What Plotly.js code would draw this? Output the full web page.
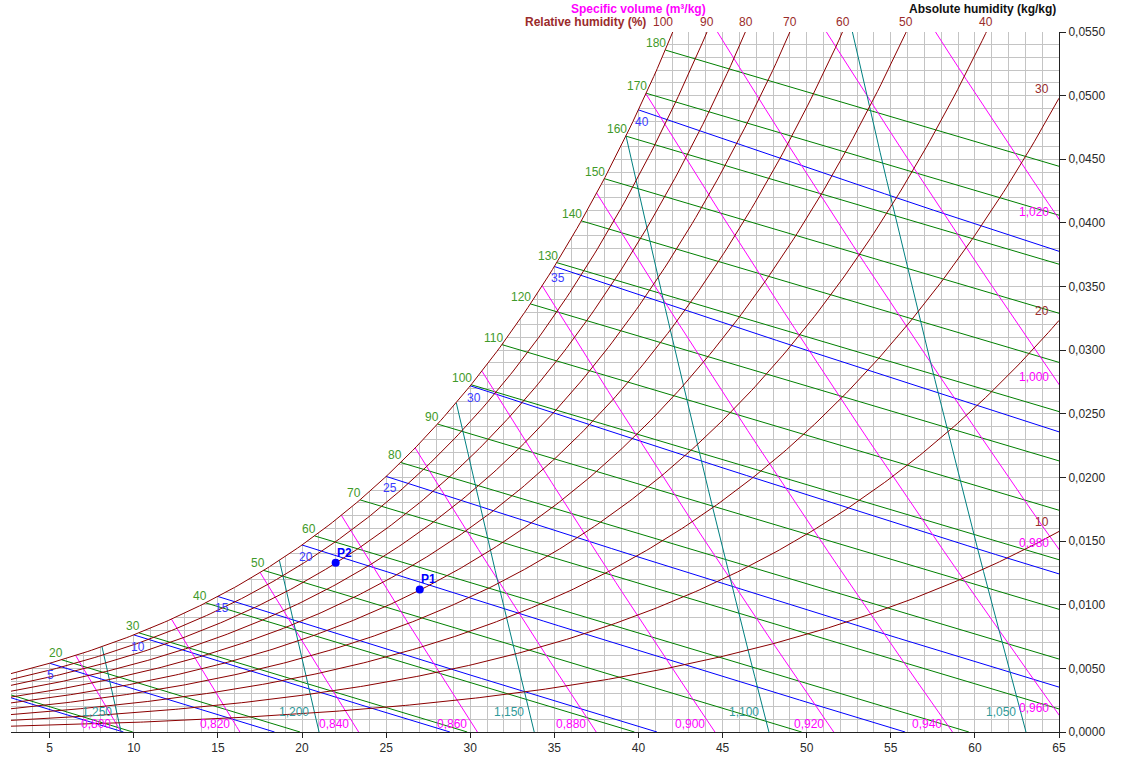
<!DOCTYPE html>
<html>
<head>
<meta charset="utf-8">
<script src="https://cdn.plot.ly/plotly-3.0.1.min.js"></script>
<style>
  html, body { margin: 0; padding: 0; background: #ffffff; }
  #chart { width: 1125px; height: 758px; }
</style>
</head>
<body>
<div id="chart"></div>
<script>
// ---------------- data (levels / labels) ----------------
const pressureKPa = 101.325;               // standard atmosphere
const tempRange = [2.7, 65];               // dry bulb °C
const humRange = [0, 0.055];               // kg/kg
const xTickValues = [5, 10, 15, 20, 25, 30, 35, 40, 45, 50, 55, 60, 65];
const rhLevels = [10, 20, 30, 40, 50, 60, 70, 80, 90, 100];
const rhTopLabels = [100, 90, 80, 70, 60, 50, 40];
const rhSideLabels = [30, 20, 10];
const enthalpyLevels = [10, 20, 30, 40, 50, 60, 70, 80, 90, 100, 110, 120, 130, 140, 150, 160, 170, 180];
const enthalpyLabels = [20, 30, 40, 50, 60, 70, 80, 90, 100, 110, 120, 130, 140, 150, 160, 170, 180];
const wetBulbLevels = [0, 5, 10, 15, 20, 25, 30, 35, 40];
const wetBulbLabels = [5, 10, 15, 20, 25, 30, 35, 40];
const volumeLevels = [0.80, 0.82, 0.84, 0.86, 0.88, 0.90, 0.92, 0.94, 0.96, 0.98, 1.00, 1.02];
const densityLevels = [1.25, 1.20, 1.15, 1.10, 1.05];
const pointNames = ['P1', 'P2'];
const pointTemp = [27, 22];
const pointHum = [0.0112, 0.0133];

// ---------------- colours ----------------
const C_RH = '#8b0000', C_RH_TXT = '#9a2b2b';
const C_H = '#008000', C_H_TXT = '#3f9a2a';
const C_WB = '#0000ff', C_WB_TXT = '#3a3aff';
const C_V = '#ff00ff';
const C_D = '#008080', C_D_TXT = '#2f9a9a';

// ---------------- psychrometric relations ----------------
const Ra = 0.287042;
function psat(T) {
  const Tk = T + 273.15;
  return Math.exp(-5.8002206e3 / Tk + 1.3914993 - 4.8640239e-2 * Tk + 4.1764768e-5 * Tk * Tk
    - 1.4452093e-8 * Tk * Tk * Tk + 6.5459673 * Math.log(Tk)) / 1000;
}
function wFromPv(pv) { return 0.621945 * pv / (pressureKPa - pv); }
function ws(T) { return wFromPv(psat(T)); }
function wRH(T, rh) { return wFromPv(rh / 100 * psat(T)); }
function enth(T, w) { return 1.006 * T + w * (2501 + 1.86 * T); }
function vol(T, w) { return Ra * (T + 273.15) * (1 + 1.607858 * w) / pressureKPa; }
function dens(T, w) { return (1 + w) / vol(T, w); }
function wWB(T, Twb) {
  return ((2501 - 2.326 * Twb) * ws(Twb) - 1.006 * (T - Twb)) / (2501 + 1.86 * T - 4.186 * Twb);
}
function bisect(f, target, lo, hi) {
  const inc = f(hi) > f(lo);
  for (let i = 0; i < 90; i++) {
    const m = (lo + hi) / 2;
    if ((f(m) < target) === inc) lo = m; else hi = m;
  }
  return (lo + hi) / 2;
}
function fmt(v, d) { return v.toFixed(d).replace('.', ','); }
function range(a, b, n) { const r = []; for (let i = 0; i <= n; i++) r.push(a + (b - a) * i / n); return r; }

const traces = [];
const ann = [];

// white cover above the saturation curve (hides grid there)
const Ttop = bisect(ws, humRange[1], 0, 60);
{
  const xs = range(tempRange[0] - 0.5, Ttop + 0.5, 200);
  const ys = xs.map(ws);
  xs.push(tempRange[0] - 1, tempRange[0] - 1);
  ys.push(humRange[1] + 0.002, ys[0]);
  traces.push({ x: xs, y: ys, mode: 'lines', fill: 'toself', fillcolor: '#ffffff',
    line: { width: 0, color: 'rgba(0,0,0,0)' }, hoverinfo: 'skip' });
}

// enthalpy lines (straight from saturation point to w = 0)
enthalpyLevels.forEach(h => {
  const Ts = bisect(T => enth(T, ws(T)), h, -20, 80);
  const T0 = h / 1.006;
  traces.push({ x: [Ts, T0], y: [ws(Ts), 0], mode: 'lines', line: { color: C_H, width: 1 }, hoverinfo: 'skip' });
  if (enthalpyLabels.includes(h)) {
    ann.push({ x: Ts, y: ws(Ts), xref: 'x', yref: 'y', text: String(h), showarrow: false,
      xanchor: 'right', yanchor: 'bottom', xshift: 3, yshift: -2, font: { color: C_H_TXT, size: 12 } });
  }
});

// wet bulb lines
wetBulbLevels.forEach(t => {
  const Tend = bisect(T => wWB(T, t), 0, t, t + 120);
  const xs = range(t, Tend, 40);
  traces.push({ x: xs, y: xs.map(T => wWB(T, t)), mode: 'lines', line: { color: C_WB, width: 1 }, hoverinfo: 'skip' });
  if (wetBulbLabels.includes(t)) {
    ann.push({ x: t, y: ws(t), xref: 'x', yref: 'y', text: String(t), showarrow: false,
      xanchor: 'left', yanchor: 'top', xshift: -5, yshift: -3, font: { color: C_WB_TXT, size: 12 } });
  }
});

// specific volume lines
volumeLevels.forEach(v => {
  const Ts = bisect(T => vol(T, ws(T)), v, -20, 80);
  const T0 = v * pressureKPa / Ra - 273.15;
  const xs = range(Ts, T0, 40);
  const wv = T => (v * pressureKPa / (Ra * (T + 273.15)) - 1) / 1.607858;
  traces.push({ x: xs, y: xs.map(wv), mode: 'lines', line: { color: C_V, width: 1 }, hoverinfo: 'skip' });
  if (T0 <= tempRange[1]) {
    ann.push({ x: T0, y: 0, xref: 'x', yref: 'y', text: fmt(v, 3), showarrow: false,
      xanchor: 'right', yanchor: 'bottom', xshift: -8, yshift: -1, font: { color: C_V, size: 12 } });
  } else {
    ann.push({ x: tempRange[1], y: wv(tempRange[1]), xref: 'x', yref: 'y', text: fmt(v, 3), showarrow: false,
      xanchor: 'right', yanchor: 'bottom', xshift: -8, yshift: -2, font: { color: C_V, size: 12 } });
  }
});

// density lines
densityLevels.forEach(r => {
  const Ts = bisect(T => dens(T, ws(T)), r, -20, 80);
  const T0 = pressureKPa / (r * Ra) - 273.15;
  const wd = T => { const rt = r * Ra * (T + 273.15); return (pressureKPa - rt) / (1.607858 * rt - pressureKPa); };
  const xs = range(Ts, T0, 40);
  traces.push({ x: xs, y: xs.map(wd), mode: 'lines', line: { color: C_D, width: 1 }, hoverinfo: 'skip' });
  const wl = 0.0016;
  const Tl = bisect(wd, wl, Ts, T0);
  ann.push({ x: Tl, y: wl, xref: 'x', yref: 'y', text: fmt(r, 3), showarrow: false,
    xanchor: 'right', yanchor: 'middle', xshift: -3, font: { color: C_D_TXT, size: 12 } });
});

// relative humidity curves
rhLevels.forEach(rh => {
  const xs = range(tempRange[0], tempRange[1], 300);
  traces.push({ x: xs, y: xs.map(T => wRH(T, rh)), mode: 'lines', line: { color: C_RH, width: 1 }, hoverinfo: 'skip' });
});
rhTopLabels.forEach(rh => {
  const Tc = bisect(T => wRH(T, rh), humRange[1], 0, 80);
  ann.push({ x: Tc, y: 1, xref: 'x', yref: 'paper', text: String(rh), showarrow: false,
    xanchor: 'center', yanchor: 'middle', yshift: 10, xshift: rh === 100 ? -10 : 0,
    font: { color: C_RH_TXT, size: 12 } });
});
rhSideLabels.forEach(rh => {
  ann.push({ x: tempRange[1], y: wRH(tempRange[1], rh), xref: 'x', yref: 'y', text: String(rh), showarrow: false,
    xanchor: 'right', yanchor: 'bottom', xshift: -8, yshift: 0, font: { color: C_RH_TXT, size: 12 } });
});

// points
traces.push({ x: pointTemp, y: pointHum, mode: 'markers', marker: { color: '#0000ff', size: 8 }, hoverinfo: 'skip' });
pointNames.forEach((n, i) => {
  ann.push({ x: pointTemp[i], y: pointHum[i], xref: 'x', yref: 'y', text: '<b>' + n + '</b>', showarrow: false,
    xanchor: 'left', yanchor: 'bottom', xshift: -1, yshift: 1, font: { color: '#0000ff', size: 12 } });
});

// header titles
ann.push({ x: 638, y: 9, xref: 'paper', yref: 'paper', text: '<b>Specific volume (m³/kg)</b>', showarrow: false,
  font: { color: C_V, size: 12 }, xanchor: 'center', yanchor: 'middle' });
ann.push({ x: 648, y: 22, xref: 'paper', yref: 'paper', text: '<b>Relative humidity (%)</b>', showarrow: false,
  font: { color: C_RH_TXT, size: 12 }, xanchor: 'right', yanchor: 'middle' });
ann.push({ x: 982, y: 9, xref: 'paper', yref: 'paper', text: '<b>Absolute humidity (kg/kg)</b>', showarrow: false,
  font: { color: '#111111', size: 12 }, xanchor: 'center', yanchor: 'middle' });

// convert header pixel positions to paper coords
const L = 11, R = 66, T_ = 32, B = 26, W = 1125, H = 758;
ann.forEach(a => {
  if (a.xref === 'paper' && a.yref === 'paper' && a.x > 2) {
    a.x = (a.x - L) / (W - L - R);
    a.y = (H - B - a.y) / (H - T_ - B);
  }
});

const gridColor = '#c4c4c4';
const layout = {
  width: W, height: H,
  margin: { l: L, r: R, t: T_, b: B, pad: 0 },
  paper_bgcolor: '#ffffff', plot_bgcolor: '#ffffff',
  showlegend: false, hovermode: false,
  separators: ',.',
  font: { family: 'Liberation Sans, Arial, sans-serif', size: 12, color: '#333333' },
  xaxis: {
    range: tempRange, tickvals: xTickValues, ticks: 'outside', ticklen: 5, tickcolor: '#222',
    showline: true, linecolor: '#222', linewidth: 1, zeroline: false,
    showgrid: true, gridcolor: gridColor, gridwidth: 1,
    minor: { dtick: 1, showgrid: true, gridcolor: gridColor, gridwidth: 1, ticks: '' },
    tickfont: { size: 12, color: '#2a2a2a' }, fixedrange: true
  },
  yaxis: {
    range: humRange, side: 'right', dtick: 0.005, tick0: 0, tickformat: '.4f',
    ticks: 'outside', ticklen: 6, tickcolor: '#222',
    showline: true, linecolor: '#222', linewidth: 1, zeroline: false,
    showgrid: true, gridcolor: gridColor, gridwidth: 1,
    minor: { dtick: 0.001, showgrid: true, gridcolor: gridColor, gridwidth: 1, ticks: '' },
    tickfont: { size: 12, color: '#2a2a2a' }, fixedrange: true
  },
  annotations: ann
};

Plotly.newPlot('chart', traces, layout, { displayModeBar: false, staticPlot: true });
</script>
</body>
</html>
